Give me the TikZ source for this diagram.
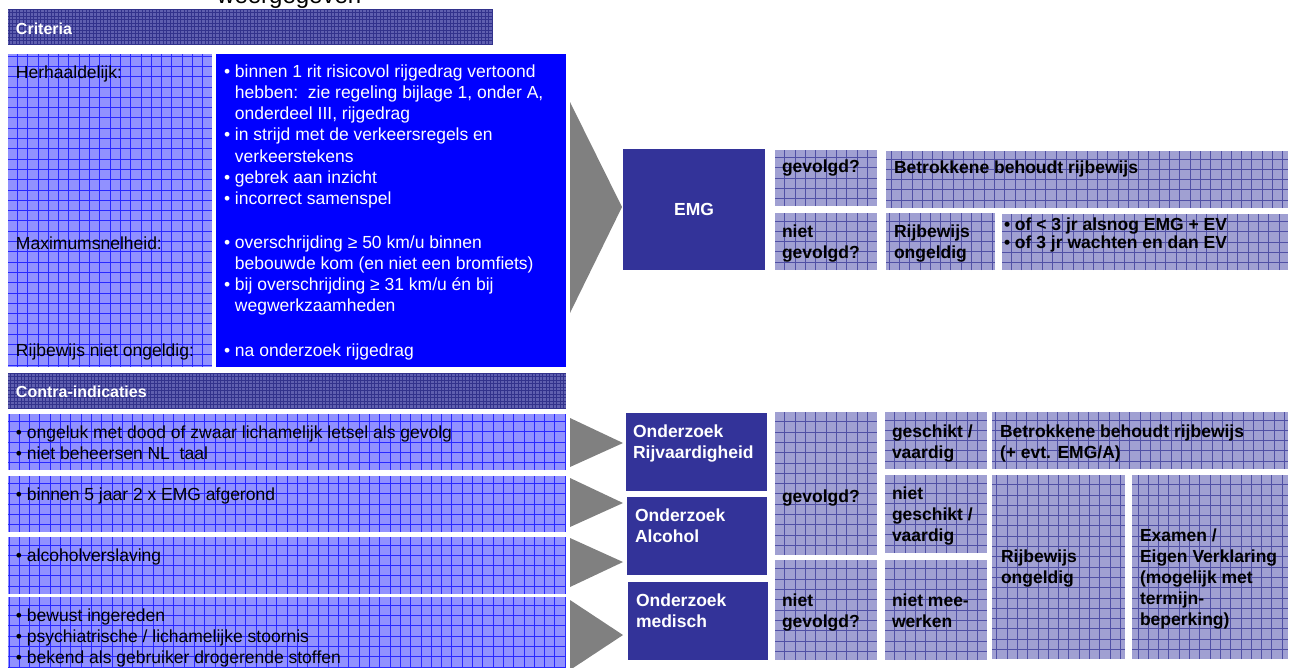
\documentclass[tikz,border=0pt]{standalone}
\usepackage{fontspec}
\setmainfont{Liberation Sans}
\definecolor{lightfill}{RGB}{145,145,255}
\definecolor{lightline}{RGB}{40,40,255}
\definecolor{grayfill}{RGB}{160,160,210}
\definecolor{grayline}{RGB}{80,80,165}
\definecolor{hdrfill}{RGB}{95,95,175}
\definecolor{hdrline}{RGB}{50,50,140}
\definecolor{navy}{RGB}{51,51,153}
\definecolor{pureblue}{RGB}{0,0,255}
\definecolor{arrowgray}{RGB}{128,128,128}
\tikzset{
  box/.style={anchor=north west, inner sep=0pt, outer sep=0pt},
  lightbox/.style={box, fill=lightfill, path picture={\draw[lightline, line width=0.7pt, step=10.3pt] (path picture bounding box.south west) grid (path picture bounding box.north east);}},
  graybox/.style={box, fill=grayfill, path picture={\draw[grayline, line width=0.65pt, step=10.3pt] (path picture bounding box.south west) grid (path picture bounding box.north east);}},
  hdrbox/.style={box, fill=hdrfill, path picture={\draw[hdrline, line width=0.9pt, step=3.5pt] (path picture bounding box.south west) grid (path picture bounding box.north east);}},
  navybox/.style={box, fill=navy},
  bluebox/.style={box, fill=pureblue},
  chevron/.style={fill=arrowgray},
  txt/.style={anchor=base west, inner sep=0pt, outer sep=0pt, align=left, text=black, font=\fontsize{17.5}{21.2}\selectfont},
  wtxt/.style={txt, text=white, font=\fontsize{17.5}{21.3}\selectfont},
  btxt/.style={txt, font=\fontsize{17.5}{21.2}\selectfont\bfseries},
  bwtxt/.style={btxt, text=white},
  htxt/.style={txt, text=white, font=\fontsize{16}{19}\selectfont\bfseries},
}
% multi-line nodes: base anchor = baseline of last line
\newcommand\mybox[6]{\node[#1, minimum width={#5-#3}, minimum height={#6-#4}] (#2) at (#3,#4) {};}
\begin{document}
\begin{tikzpicture}[x=1pt, y=-1pt]
\useasboundingbox (0,0) rectangle (1295,667);
\clip (0,0) rectangle (1295,667);

\node[anchor=base west, inner sep=0pt, font=\fontsize{24}{28}\selectfont] (title) at (217,3) {weergegeven};

% Criteria section
\mybox{hdrbox}{crit}{8}{9}{493}{44}
\node[htxt] (crit-t) at (16,34) {Criteria};
\mybox{lightbox}{lab}{8}{54}{212}{367}
\mybox{bluebox}{crbox}{216}{54}{566}{367}
\node[txt] (l1) at (16,78) {Herhaaldelijk:};
\node[txt] (l2) at (16,249) {Maximumsnelheid:};
\node[txt] (l3) at (16,356) {Rijbewijs niet ongeldig:};
\node[wtxt] (b1) at (224,{77+6*21.3}) {• binnen 1 rit risicovol rijgedrag vertoond\\\phantom{• }hebben:\ \ zie regeling bijlage 1, onder A,\\\phantom{• }onderdeel III, rijgedrag\\• in strijd met de verkeersregels en\\\phantom{• }verkeerstekens\\• gebrek aan inzicht\\• incorrect samenspel};
\node[wtxt] (b2) at (224,{248+3*21.3}) {• overschrijding ≥ 50 km/u binnen\\\phantom{• }bebouwde kom (en niet een bromfiets)\\• bij overschrijding ≥ 31 km/u én bij\\\phantom{• }wegwerkzaamheden};
\node[wtxt] (b3) at (224,356) {• na onderzoek rijgedrag};

\fill[chevron] (570,102) -- (622,207) -- (570,313) -- cycle;

\mybox{navybox}{emg}{623}{149}{765}{270}
\node[bwtxt, anchor=center] (emg-t) at (emg.center) {EMG};
\mybox{graybox}{g1}{775}{150}{877}{206}
\node[btxt] (g1-t) at (782,172) {gevolgd?};
\mybox{graybox}{beh1}{886}{151}{1288}{208}
\node[btxt] (beh1-t) at (894,173) {Betrokkene behoudt rijbewijs};
\mybox{graybox}{ng1}{775}{213}{877}{270}
\node[btxt] (ng1-t) at (782,{237+21.2}) {niet\\gevolgd?};
\mybox{graybox}{ro1}{886}{213}{995}{270}
\node[btxt] (ro1-t) at (894,{237+21.2}) {Rijbewijs\\ongeldig};
\mybox{graybox}{of1}{1002}{214}{1288}{270}
\node[btxt, font=\fontsize{17.5}{18}\selectfont\bfseries] (of1-t) at (1004,{230+18}) {• of < 3 jr alsnog EMG + EV\\• of 3 jr wachten en dan EV};

% Contra-indicaties section
\mybox{hdrbox}{contra}{8}{373}{566}{408}
\node[htxt] (contra-t) at (16,397) {Contra-indicaties};
\mybox{lightbox}{c1}{8}{414}{566}{470}
\mybox{lightbox}{c2}{8}{476}{566}{532}
\mybox{lightbox}{c3}{8}{537}{566}{594}
\mybox{lightbox}{c4}{8}{597}{566}{675}
\node[txt] (c1-t) at (16,{438+21.2}) {• ongeluk met dood of zwaar lichamelijk letsel als gevolg\\• niet beheersen NL\ \ taal};
\node[txt] (c2-t) at (16,500) {• binnen 5 jaar 2 x EMG afgerond};
\node[txt] (c3-t) at (16,561) {• alcoholverslaving};
\node[txt] (c4-t) at (16,{621+2*21.2}) {• bewust ingereden\\• psychiatrische / lichamelijke stoornis\\• bekend als gebruiker drogerende stoffen};

\fill[chevron] (570,418) -- (623,443) -- (570,467) -- cycle;
\fill[chevron] (570,478) -- (623,503) -- (570,527) -- cycle;
\fill[chevron] (570,538) -- (623,562) -- (570,587) -- cycle;
\fill[chevron] (570,600) -- (623,635) -- (570,670) -- cycle;

\mybox{navybox}{oz1}{626}{413}{767}{491}
\node[bwtxt] (oz1-t) at (633,{437+21.2}) {Onderzoek\\Rijvaardigheid};
\mybox{navybox}{oz2}{627}{497}{767}{575}
\node[bwtxt] (oz2-t) at (635,{521+21.2}) {Onderzoek\\Alcohol};
\mybox{navybox}{oz3}{628}{582}{768}{660}
\node[bwtxt] (oz3-t) at (636,{606+21.2}) {Onderzoek\\medisch};

\mybox{graybox}{g2}{775}{412}{877}{555}
\node[btxt] (g2-t) at (782,502) {gevolgd?};
\mybox{graybox}{ng2}{775}{560}{877}{660}
\node[btxt] (ng2-t) at (782,{606+21.2}) {niet\\gevolgd?};
\mybox{graybox}{gs}{885}{412}{987}{469}
\node[btxt] (gs-t) at (892,{437+21.2}) {geschikt /\\vaardig};
\mybox{graybox}{ngs}{885}{475}{987}{553}
\node[btxt] (ngs-t) at (892,{499+2*21.2}) {niet\\geschikt /\\vaardig};
\mybox{graybox}{nmw}{885}{560}{987}{660}
\node[btxt] (nmw-t) at (892,{606+21.2}) {niet mee-\\werken};
\mybox{graybox}{beh2}{992}{412}{1288}{469}
\node[btxt] (beh2-t) at (1000,{437+21.2}) {Betrokkene behoudt rijbewijs\\(+ evt. EMG/A)};
\mybox{graybox}{ro2}{992}{475}{1125}{659}
\node[btxt] (ro2-t) at (1001,{563+20.5}) {Rijbewijs\\ongeldig};
\mybox{graybox}{ex}{1132}{475}{1288}{659}
\node[btxt] (ex-t) at (1140,{541+4*21.2}) {Examen /\\Eigen Verklaring\\(mogelijk met\\termijn-\\beperking)};
\end{tikzpicture}
\end{document}
